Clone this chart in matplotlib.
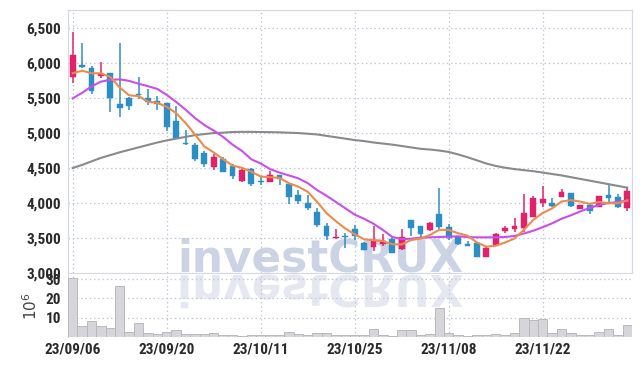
import matplotlib
matplotlib.use("Agg")
import matplotlib.pyplot as plt
from matplotlib import font_manager as fm
from matplotlib.textpath import TextPath
from matplotlib.font_manager import FontProperties
from matplotlib.patches import PathPatch
from matplotlib.transforms import Affine2D
import numpy as np

# ---------------- data ----------------
date_labels = ['23/09/06', '23/09/20', '23/10/11', '23/10/25', '23/11/08', '23/11/22']
date_label_idx = [0, 10, 20, 30, 40, 50]

opens = [5800, 5970, 5930, 5815, 5850, 5410, 5500, 5550, 5500, 5455,
         5420, 5165, 4845, 4825, 4715, 4515, 4620, 4525, 4305, 4480,
         4310, 4290, 4395, 4265, 4110, 4000, 3870, 3665, 3490, 3530,
         3620, 3430, 3370, 3405, 3475, 3335, 3750, 3665, 3610, 3840,
         3655, 3515, 3405, 3420, 3230, 3395, 3595, 3620, 3635, 3800,
         3990, 4000, 4085, 4135, 3915, 3965, 3945, 4110, 4075, 3930]
highs = [6434, 6280, 5950, 6005, 5850, 6280, 5505, 5790, 5620, 5520,
         5420, 5380, 5045, 4850, 4740, 4700, 4655, 4560, 4515, 4490,
         4380, 4455, 4395, 4270, 4180, 4110, 3920, 3705, 3620, 3570,
         3680, 3440, 3665, 3560, 3515, 3620, 3755, 3670, 3720, 4205,
         3700, 3520, 3450, 3420, 3365, 3570, 3665, 3785, 4120, 4095,
         4240, 4065, 4190, 4140, 3970, 3975, 4100, 4265, 4125, 4220]
lows = [5706, 5930, 5550, 5780, 5290, 5225, 5320, 5480, 5400, 5330,
        5030, 4905, 4830, 4600, 4510, 4465, 4435, 4340, 4300, 4240,
        4260, 4290, 4255, 3975, 3975, 3895, 3655, 3465, 3485, 3360,
        3465, 3320, 3310, 3385, 3285, 3330, 3525, 3515, 3590, 3620,
        3465, 3400, 3375, 3225, 3225, 3390, 3570, 3585, 3585, 3790,
        3945, 3945, 4080, 3945, 3910, 3840, 3940, 4015, 3930, 3880]
closes = [6110, 5940, 5590, 5840, 5500, 5360, 5380, 5535, 5440, 5415,
          5080, 4930, 4835, 4625, 4550, 4650, 4445, 4385, 4465, 4270,
          4305, 4395, 4335, 4085, 4030, 3930, 3680, 3525, 3515, 3505,
          3520, 3325, 3450, 3455, 3285, 3505, 3635, 3555, 3715, 3655,
          3490, 3405, 3380, 3230, 3360, 3550, 3635, 3665, 3850, 4070,
          4050, 3960, 4155, 3950, 3965, 3885, 4095, 4070, 3945, 4165]

ma_short = [5849, 5886, 5849, 5849, 5796, 5646, 5534, 5523, 5443, 5426,
            5370, 5280, 5140, 4977, 4804, 4718, 4621, 4531, 4499, 4443,
            4374, 4364, 4354, 4278, 4230, 4155, 4012, 3850, 3736, 3631,
            3549, 3478, 3463, 3451, 3407, 3404, 3466, 3487, 3539, 3613,
            3610, 3564, 3529, 3432, 3373, 3385, 3431, 3488, 3612, 3754,
            3854, 3919, 4017, 4037, 4016, 3983, 4010, 3993, 3992, 4032]
ma_mid = [5490, 5570, 5660, 5730, 5755, 5762, 5740, 5700, 5665, 5625,
          5540, 5440, 5330, 5210, 5110, 5030, 4940, 4830, 4740, 4620,
          4560, 4480, 4430, 4390, 4348, 4280, 4180, 4100, 4010, 3920,
          3830, 3770, 3700, 3610, 3510, 3480, 3485, 3500, 3505, 3510,
          3515, 3520, 3510, 3505, 3505, 3505, 3510, 3525, 3560, 3600,
          3650, 3705, 3770, 3820, 3875, 3925, 3967, 3995, 4010, 4030]
ma_long = [4495, 4540, 4590, 4640, 4680, 4720, 4755, 4790, 4825, 4860,
           4890, 4915, 4940, 4965, 4980, 4995, 5000, 5010, 5012, 5012,
           5010, 5008, 5005, 5000, 4995, 4985, 4975, 4955, 4935, 4915,
           4895, 4880, 4860, 4845, 4830, 4810, 4790, 4770, 4760, 4745,
           4725, 4690, 4650, 4605, 4560, 4525, 4500, 4480, 4465, 4450,
           4430, 4410, 4390, 4365, 4340, 4315, 4290, 4265, 4240, 4215]

volumes = [30.6, 5.7, 8.1, 5.7, 4.7, 26.4, 2.6, 7.1, 2.1, 1.6,
           2.6, 3.5, 1.6, 1.6, 1.6, 2.1, 1.0, 1.0, 0.5, 1.0,
           1.2, 1.0, 1.0, 2.4, 1.6, 1.0, 1.9, 1.9, 1.0, 1.0,
           1.0, 1.0, 4.0, 1.0, 0.5, 3.5, 3.5, 1.0, 1.5, 15.0,
           1.9, 1.0, 0.5, 1.0, 1.0, 1.6, 1.0, 1.9, 9.8, 8.6,
           9.2, 1.9, 4.3, 1.9, 1.0, 1.0, 2.4, 4.3, 1.0, 6.1]

price_ticks = [3000, 3500, 4000, 4500, 5000, 5500, 6000, 6500]
vol_ticks = [10, 20, 30]


# ---------------- style ----------------
def has_font(name):
    try:
        fm.findfont(fm.FontProperties(family=name), fallback_to_default=False)
        return True
    except Exception:
        return False


font, fsize = None, 9.5
for cand in ('Roboto Condensed', 'Liberation Sans Narrow', 'DejaVu Sans Condensed'):
    if has_font(cand):
        font, fsize = [cand, 'DejaVu Sans'], 11
        break
if font is None:
    font, fsize = ['Liberation Sans', 'DejaVu Sans'], 9.5

UP = '#e5206a'
DOWN = '#2b8fc6'
GRID = '#c3c7da'
TXT = '#2a2a2a'

W, H = 642, 366
fig = plt.figure(figsize=(W / 100, H / 100), dpi=100)
left, right = 68 / W, 632 / W
p_bot, p_top = 1 - 272.7 / H, 1 - 9.5 / H
v_bot = 1 - 337 / H

ax = fig.add_axes([left, p_bot, right - left, p_top - p_bot])
axv = fig.add_axes([left, v_bot, right - left, p_bot - v_bot], sharex=ax)

# watermark (behind everything)
wm_fp = FontProperties(family='DejaVu Sans', weight='bold', size=31.5)
fig.text(177 / W, 1 - 272 / H, 'investCRUX', fontproperties=wm_fp,
         color='#ccd3e5', ha='left', va='baseline', zorder=0)
tp = TextPath((0, 0), 'investCRUX', size=43.8,
              prop=FontProperties(family='DejaVu Sans', weight='bold'))
refl = PathPatch(tp, transform=Affine2D().scale(1, -1).translate(177, H - 275),
                 facecolor='#e5e8f1', edgecolor='none', zorder=0)
fig.patches.append(refl)
for a in (ax, axv):
    a.set_facecolor('none')
    a.set_zorder(2)

x = np.arange(len(closes))

# candles
for i in x:
    o, h, l, c = opens[i], highs[i], lows[i], closes[i]
    col = UP if c >= o else DOWN
    ax.vlines(i, l, h, color=col, linewidth=1.1, zorder=3)
    lo_b, hi_b = min(o, c), max(o, c)
    hgt = max(hi_b - lo_b, 12)
    ax.bar(i, hgt, bottom=lo_b - (hgt - (hi_b - lo_b)) / 2, width=0.62,
           color=col, edgecolor=col, linewidth=0.3, zorder=4)

ax.plot(x, ma_long, color='#8a8a8a', linewidth=1.5, zorder=5)
ax.plot(x, ma_mid, color='#c94fec', linewidth=1.5, zorder=5)
ax.plot(x, ma_short, color='#f08a4c', linewidth=1.5, zorder=5)

ax.set_xlim(-0.5, 59.5)
ax.set_ylim(3000, 6760)
ax.set_yticks(price_ticks)
ax.set_yticklabels([f'{v:,}' for v in price_ticks])
ax.grid(True, color=GRID, linestyle=(0, (1.2, 2.2)), linewidth=0.9)
ax.set_axisbelow(True)
ax.tick_params(axis='y', length=0, pad=5, labelsize=fsize, labelcolor=TXT)
ax.tick_params(axis='x', length=0, labelbottom=False)
for lab in ax.get_yticklabels():
    lab.set_family(font)
    lab.set_fontweight('bold')
for s in ax.spines.values():
    s.set_color('#d6d8e2')
    s.set_linewidth(0.9)
ax.spines['bottom'].set_visible(False)

# volume
axv.bar(x, volumes, width=1.0, color='#d6d6da', edgecolor='#b9b9be',
        linewidth=0.7, zorder=3)
axv.set_ylim(0, 33.3)
axv.set_yticks(vol_ticks)
axv.set_yticklabels([str(v) for v in vol_ticks])
axv.set_xticks(date_label_idx)
axv.set_xticklabels(date_labels)
axv.grid(True, color=GRID, linestyle=(0, (1.2, 2.2)), linewidth=0.9)
axv.set_axisbelow(True)
axv.tick_params(axis='both', length=0, labelsize=fsize, labelcolor=TXT)
axv.tick_params(axis='y', pad=5)
axv.tick_params(axis='x', pad=4)
for lab in axv.get_yticklabels() + axv.get_xticklabels():
    lab.set_family(font)
    lab.set_fontweight('bold')
for side in ('right', 'bottom'):
    axv.spines[side].set_visible(False)
axv.spines['top'].set_color('#d6d8e2')
axv.spines['left'].set_color('#d6d8e2')
ax.set_xticks(date_label_idx)

fig.text(31 / W, 1 - 306 / H, r'$10^6$', rotation=90, ha='center', va='center',
         fontsize=11, color='#444444')

fig.savefig('out.png', dpi=100)
